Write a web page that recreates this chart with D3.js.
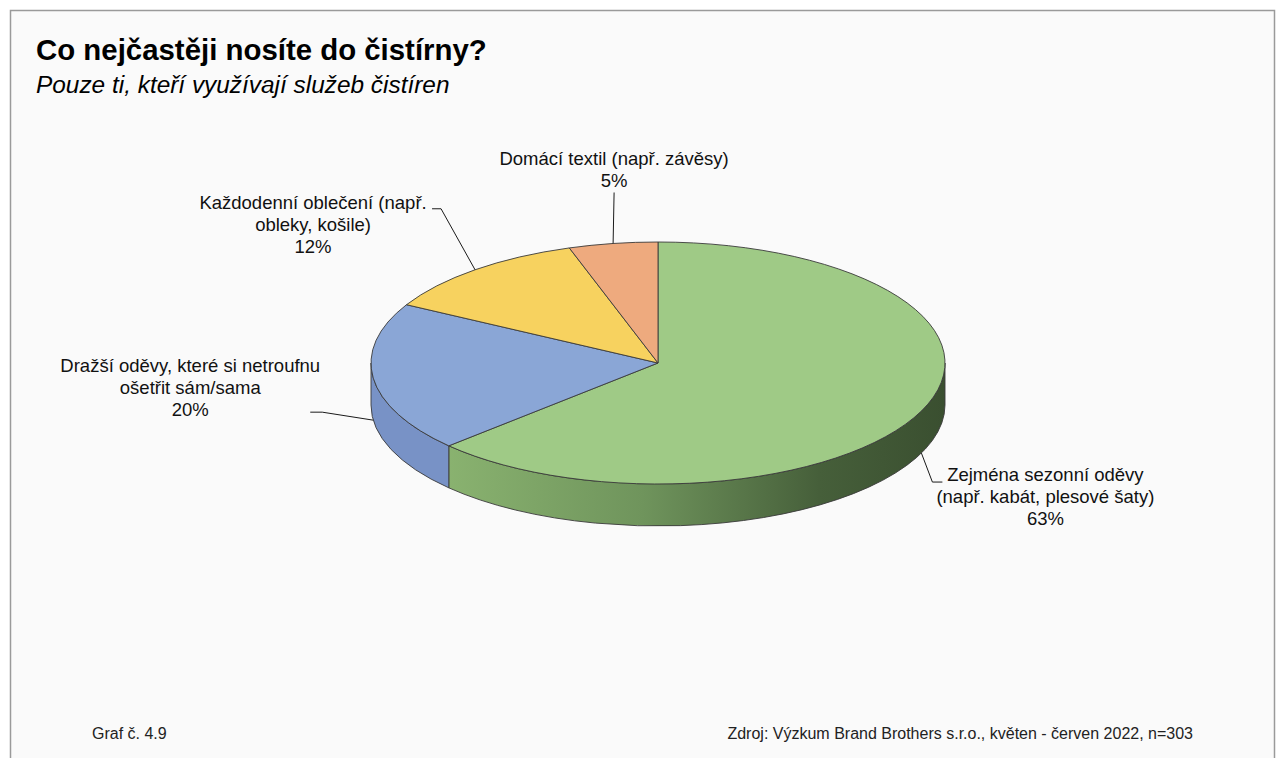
<!DOCTYPE html>
<html>
<head>
<meta charset="utf-8">
<script src="https://cdn.jsdelivr.net/npm/d3@7"></script>
<style>
  html, body { margin: 0; padding: 0; background: #ffffff; }
  svg { display: block; font-family: "Liberation Sans", Arial, sans-serif; }
</style>
</head>
<body>
<svg id="chart" width="1277" height="758"></svg>
<script>
// Survey answers (share of respondents, %)
const categories = [
  ["Zejména sezonní oděvy", "(např. kabát, plesové šaty)"],
  ["Dražší oděvy, které si netroufnu", "ošetřit sám/sama"],
  ["Každodenní oblečení (např.", "obleky, košile)"],
  ["Domácí textil (např. závěsy)"]
];
const values = [63, 20, 12, 5];
const topColors = ["#9fca86", "#8aa6d6", "#f7d25f", "#eeaa7e"];
const sideColors = ["#7ea566", "#7892c6", "#d9b450", "#cf9468"];

const title = "Co nejčastěji nosíte do čistírny?";
const subtitle = "Pouze ti, kteří využívají služeb čistíren";
const footLeft = "Graf č. 4.9";
const footRight = "Zdroj: Výzkum Brand Brothers s.r.o., květen - červen 2022, n=303";

const svg = d3.select("#chart");

// frame
svg.append("rect").attr("x", 10.5).attr("y", 10.5).attr("width", 1264).attr("height", 770)
  .attr("fill", "#fafafa").attr("stroke", "#9a9a9a").attr("stroke-width", 1.5);

svg.append("text").attr("x", 36).attr("y", 60).attr("font-size", 29.4).attr("font-weight", "bold")
  .attr("fill", "#000").text(title);
svg.append("text").attr("x", 36).attr("y", 93).attr("font-size", 24.4).attr("font-style", "italic")
  .attr("fill", "#000").text(subtitle);

svg.append("text").attr("x", 92).attr("y", 739).attr("font-size", 16).attr("fill", "#222").text(footLeft);
svg.append("text").attr("x", 1193).attr("y", 739).attr("font-size", 16).attr("text-anchor", "end")
  .attr("fill", "#222").text(footRight);

// 3D pie geometry
const cx = 658, cy = 363, rx = 287, ry = 121, depth = 42;
const pie = d3.pie().sort(null).startAngle(0).endAngle(2 * Math.PI).value(d => d);
const arcs = pie(values);

const pt = (a, dy = 0) => [cx + rx * Math.sin(a), cy - ry * Math.cos(a) + dy];

const defs = svg.append("defs");
const grad = defs.append("linearGradient").attr("id", "sideGreen")
  .attr("gradientUnits", "userSpaceOnUse").attr("x1", cx - rx * 0.75).attr("x2", cx + rx).attr("y1", 0).attr("y2", 0);
[[0, "#8ab370"], [0.4, "#6f945c"], [0.75, "#465f3a"], [1, "#3a4f30"]].forEach(([o, c]) =>
  grad.append("stop").attr("offset", o).attr("stop-color", c));

function topPath(d) {
  const [x0, y0] = pt(d.startAngle), [x1, y1] = pt(d.endAngle);
  const large = d.endAngle - d.startAngle > Math.PI ? 1 : 0;
  return `M${cx},${cy}L${x0},${y0}A${rx},${ry} 0 ${large} 1 ${x1},${y1}Z`;
}

function sidePath(a0, a1) {
  const [x0, y0] = pt(a0), [x1, y1] = pt(a1);
  const large = a1 - a0 > Math.PI ? 1 : 0;
  return `M${x0},${y0}A${rx},${ry} 0 ${large} 1 ${x1},${y1}` +
    `L${x1},${y1 + depth}A${rx},${ry} 0 ${large} 0 ${x0},${y0 + depth}Z`;
}

const gPie = svg.append("g");
// visible outer walls lie in the front half (pi/2 .. 3pi/2)
arcs.forEach((d, i) => {
  const a0 = Math.max(d.startAngle, Math.PI / 2), a1 = Math.min(d.endAngle, 3 * Math.PI / 2);
  if (a1 > a0) {
    gPie.append("path").attr("d", sidePath(a0, a1))
      .attr("fill", i === 0 ? "url(#sideGreen)" : sideColors[i])
      .attr("stroke", "#3a3a3a").attr("stroke-width", 0.9).attr("stroke-linejoin", "round");
  }
});
gPie.selectAll("path.top").data(arcs).join("path").attr("class", "top")
  .attr("d", topPath).attr("fill", (d, i) => topColors[i])
  .attr("stroke", "#3a3a3a").attr("stroke-width", 0.9).attr("stroke-linejoin", "round");

// label placement: elbow/end of leader line and text block centre, relative to the anchor
const labelLayout = [
  { elbow: [11, 29], end: [21, 29], tx: 124, ty: 43 },
  { elbow: [-51, -8], end: [-63, -8], tx: -183, ty: -33 },
  { elbow: [-34, -61], end: [-43, -61], tx: -162, ty: -45 },
  { elbow: [1, -51], end: [1, -51], tx: 1, ty: -74 }
];

const gLab = svg.append("g");
arcs.forEach((d, i) => {
  const mid = (d.startAngle + d.endAngle) / 2;
  const front = Math.cos(mid) < 0;
  const [ax, ay] = pt(mid, front ? depth : 0);
  const L = labelLayout[i];
  gLab.append("polyline")
    .attr("points", [[ax, ay], [ax + L.elbow[0], ay + L.elbow[1]], [ax + L.end[0], ay + L.end[1]]].map(p => p.join(",")).join(" "))
    .attr("fill", "none").attr("stroke", "#1a1a1a").attr("stroke-width", 1);
  const lines = categories[i].concat([d3.format(".0f")(d.value) + "%"]);
  const t = gLab.append("text").attr("text-anchor", "middle").attr("font-size", 18.5).attr("fill", "#111");
  const x0 = ax + L.tx;
  const yFirst = ay + L.ty - (lines.length - 1) * 22 / 2;
  lines.forEach((s, k) => {
    t.append("tspan").attr("x", x0).attr("y", yFirst + k * 22 + 6.5).text(s);
  });
});
</script>
</body>
</html>
